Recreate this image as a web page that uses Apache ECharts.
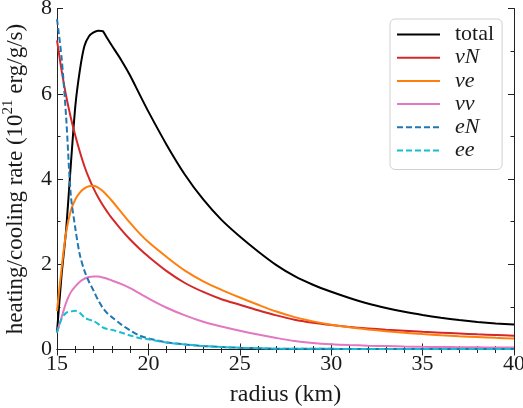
<!DOCTYPE html>
<html>
<head>
<meta charset="utf-8">
<script src="https://cdn.jsdelivr.net/npm/echarts@6/dist/echarts.min.js"></script>
<style>html,body{margin:0;padding:0;background:#fff}#c{width:523px;height:408px}</style>
</head>
<body>
<div id="c"></div>
<script>
const radius = [15, 15.25, 15.5, 15.75, 16, 16.25, 16.5, 16.75, 17, 17.25, 17.5, 17.75, 18, 18.5, 19, 19.5, 20, 21, 22, 23, 24, 25, 26, 27, 28, 29, 30, 31, 32, 33, 34, 35, 36, 37, 38, 39, 40];
const total = [0.40, 1.75, 2.8, 4.3, 5.7, 6.55, 7.12, 7.35, 7.44, 7.48, 7.47, 7.3, 7.13, 6.8, 6.43, 6.0, 5.58, 4.8, 4.1, 3.52, 3.04, 2.65, 2.3, 1.98, 1.72, 1.52, 1.355, 1.21, 1.08, 0.975, 0.885, 0.81, 0.745, 0.69, 0.645, 0.61, 0.585];
const nuN = [7.25, 6.55, 5.95, 5.45, 5.02, 4.64, 4.3, 4.02, 3.78, 3.57, 3.39, 3.23, 3.08, 2.82, 2.58, 2.37, 2.18, 1.84, 1.56, 1.35, 1.18, 1.05, 0.92, 0.8, 0.7, 0.63, 0.575, 0.53, 0.495, 0.465, 0.44, 0.415, 0.395, 0.375, 0.355, 0.34, 0.325];
const nue = [0.9, 1.9, 2.75, 3.25, 3.52, 3.68, 3.78, 3.83, 3.84, 3.8, 3.72, 3.61, 3.49, 3.23, 2.97, 2.73, 2.52, 2.17, 1.85, 1.6, 1.4, 1.22, 1.05, 0.89, 0.76, 0.66, 0.58, 0.52, 0.472, 0.43, 0.393, 0.362, 0.335, 0.312, 0.292, 0.273, 0.257];
const nunu = [0.4, 0.75, 1.1, 1.34, 1.48, 1.59, 1.66, 1.7, 1.715, 1.71, 1.69, 1.66, 1.62, 1.54, 1.44, 1.32, 1.2, 0.98, 0.8, 0.65, 0.54, 0.44, 0.35, 0.27, 0.2, 0.155, 0.125, 0.105, 0.09, 0.08, 0.07, 0.063, 0.058, 0.054, 0.05, 0.047, 0.045];
const eN = [7.75, 6.85, 5.45, 3.65, 2.85, 2.22, 1.85, 1.59, 1.38, 1.16, 0.98, 0.85, 0.76, 0.59, 0.45, 0.33, 0.26, 0.17, 0.12, 0.08, 0.06, 0.04, 0.03, 0.02, 0.02, 0.015, 0.015, 0.01, 0.01, 0.01, 0.01, 0.01, 0.01, 0.01, 0.01, 0.01, 0.01];
const ee = [0.4, 0.72, 0.86, 0.89, 0.91, 0.86, 0.75, 0.7, 0.67, 0.6, 0.52, 0.48, 0.46, 0.4, 0.33, 0.27, 0.24, 0.16, 0.12, 0.08, 0.06, 0.04, 0.03, 0.02, 0.02, 0.015, 0.015, 0.01, 0.01, 0.01, 0.01, 0.01, 0.01, 0.01, 0.01, 0.01, 0.01];
const xTicks = ['15', '20', '25', '30', '35', '40'];
const yTicks = ['0', '2', '4', '6', '8'];

const FONT = 'Liberation Serif';
const TXT = '#1a1a1a';
function pairs(ys) { return radius.map((r, i) => [r, ys[i]]); }

const seriesDefs = [
  { name: 'total', data: total, color: '#000000', dash: 'solid', smooth: 0.2 },
  { name: 'νN', data: nuN, color: '#d62728', dash: 'solid', smooth: 0.3 },
  { name: 'νe', data: nue, color: '#ff7f0e', dash: 'solid', smooth: 0.3 },
  { name: 'νν', data: nunu, color: '#e377c2', dash: 'solid', smooth: 0.3 },
  { name: 'eN', data: eN, color: '#1f77b4', dash: [6, 3], smooth: 0.3 },
  { name: 'ee', data: ee, color: '#17becf', dash: [6, 3], smooth: 0.3 }
];

const axisLine = { show: true, lineStyle: { color: '#222', width: 1 } };
const chart = echarts.init(document.getElementById('c'), null, { renderer: 'canvas' });
chart.setOption({
  animation: false,
  backgroundColor: '#fff',
  grid: { left: 57, right: 9, top: 8.5, bottom: 58.5, containLabel: false, outerBoundsMode: 'none' },
  legend: {
    orient: 'vertical',
    left: 390, top: 19,
    itemWidth: 43, itemHeight: 18, itemGap: 1.2,
    padding: [4.5, 8, 8, 6],
    borderColor: '#d0d0d0', borderWidth: 1, borderRadius: 5,
    backgroundColor: 'rgba(255,255,255,0.85)',
    itemStyle: { opacity: 0 },
    textStyle: {
      fontFamily: FONT, fontSize: 22, color: TXT, padding: [0, 0, 0, 10],
      rich: { i: { fontFamily: FONT, fontStyle: 'italic', fontSize: 22, color: TXT } }
    },
    formatter: n => n === 'total' ? n : '{i|' + n + '}',
    data: seriesDefs.map(s => s.name)
  },
  xAxis: [{
    type: 'value', min: 15, max: 40, interval: 5,
    name: 'radius (km)', nameLocation: 'middle', nameGap: 33,
    nameTextStyle: { fontFamily: FONT, fontSize: 24, color: TXT },
    axisLine: axisLine,
    axisTick: { inside: true, length: 6, lineStyle: { color: '#222' } },
    minorTick: { show: true, splitNumber: 5, length: 3.5, lineStyle: { color: '#222' } },
    axisLabel: { fontFamily: FONT, fontSize: 22, color: TXT, margin: 4, formatter: v => xTicks[Math.round((v - 15) / 5)] },
    splitLine: { show: false }
  }, {
    type: 'value', min: 15, max: 40, interval: 5, position: 'top',
    axisLine: axisLine,
    axisTick: { inside: true, length: 6, lineStyle: { color: '#222' } },
    minorTick: { show: true, splitNumber: 5, length: 3.5, lineStyle: { color: '#222' } },
    axisLabel: { show: false }, splitLine: { show: false }
  }],
  yAxis: [{
    type: 'value', min: 0, max: 8, interval: 2,
    name: '{n|heating/cooling rate (10}{s|21}{n| erg/g/s)}', nameLocation: 'middle', nameGap: 30,
    nameTextStyle: {
      fontFamily: FONT, fontSize: 23, color: TXT,
      rich: {
        n: { fontFamily: FONT, fontSize: 23, color: TXT, lineHeight: 26, verticalAlign: 'bottom' },
        s: { fontFamily: FONT, fontSize: 15, color: TXT, lineHeight: 26, verticalAlign: 'top', padding: [0, 0, 6, 0] }
      }
    },
    axisLine: axisLine,
    axisTick: { inside: true, length: 6, lineStyle: { color: '#222' } },
    minorTick: { show: true, splitNumber: 2, length: 3.5, lineStyle: { color: '#222' } },
    axisLabel: { fontFamily: FONT, fontSize: 22, color: TXT, margin: 5, formatter: v => yTicks[Math.round(v / 2)] },
    splitLine: { show: false }
  }, {
    type: 'value', min: 0, max: 8, interval: 2, position: 'right',
    axisLine: axisLine,
    axisTick: { inside: true, length: 6, lineStyle: { color: '#222' } },
    minorTick: { show: true, splitNumber: 2, length: 3.5, lineStyle: { color: '#222' } },
    axisLabel: { show: false }, splitLine: { show: false }
  }],
  series: seriesDefs.map(s => ({
    name: s.name, type: 'line', xAxisIndex: 0, yAxisIndex: 0,
    data: pairs(s.data), showSymbol: false, symbol: 'none', smooth: s.smooth,
    color: s.color,
    lineStyle: { color: s.color, width: 2, type: s.dash },
    itemStyle: { color: s.color }
  }))
});
</script>
</body>
</html>
